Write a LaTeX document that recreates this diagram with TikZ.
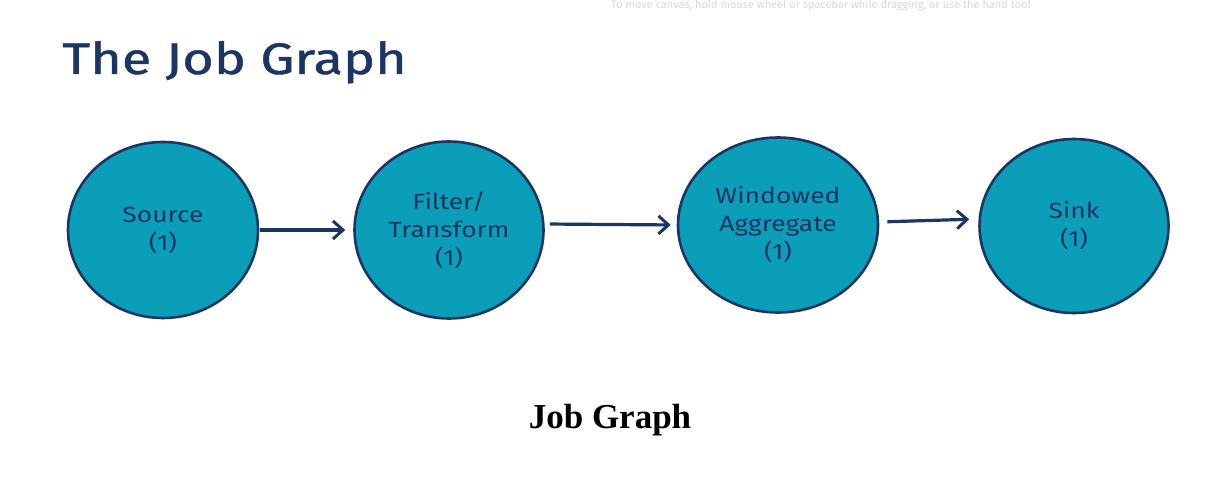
\documentclass[tikz,border=0pt]{standalone}
\usepackage{fontspec}
\setmainfont{Liberation Serif}
\newfontfamily\handfont{Fira Sans}
\newfontfamily\titlefont[FakeStretch=1.23,FakeBold=1]{Fira Sans}
\newfontfamily\labelfont[FakeStretch=1.2]{Fira Sans}
\usetikzlibrary{arrows.meta,shapes.geometric}
\definecolor{navy}{HTML}{1B3564}
\definecolor{tealfill}{HTML}{0A9EB9}
\definecolor{hintgray}{HTML}{D9D9D9}
\tikzset{
  stage/.style={ellipse, draw=navy, line width=2.6pt, fill=tealfill, inner sep=0pt,
    font=\labelfont\fontsize{22}{28}\selectfont, text=navy, align=center},
  flow/.style={draw=navy, line width=3.2pt, -{Straight Barb[length=10pt,width=18pt,line width=3pt]}},
}
\begin{document}
\begin{tikzpicture}[x=1pt,y=-1pt]
\useasboundingbox[fill=white] (0,0) rectangle (1222,486);
\node[text=hintgray, font=\handfont\fontsize{11}{12}\selectfont, anchor=center] (hint) at (821,5) {To move canvas, hold mouse wheel or spacebar while dragging, or use the hand tool};
\node[text=navy, font=\titlefont\fontsize{44}{48}\selectfont, anchor=base west, inner sep=0pt] (title) at (62,74) {The Job Graph};

\node[stage, minimum width=190pt, minimum height=176pt] (src) at (163,230) {Source\\(1)};
\node[stage, minimum width=189pt, minimum height=177pt] (flt) at (449,230) {Filter/\\Transform\\(1)};
\node[stage, minimum width=200pt, minimum height=175pt] (win) at (778,225) {Windowed\\Aggregate\\(1)};
\node[stage, minimum width=189pt, minimum height=174pt] (snk) at (1074,226) {Sink\\(1)};

\draw[flow, shorten <=1pt, shorten >=8pt] (src.east) -- (flt.west);
\draw[flow, shorten <=5pt, shorten >=6pt] ([yshift=6pt]flt.east) -- (win.west);
\draw[flow, shorten <=8pt, shorten >=9pt] ([yshift=3pt]win.east) -- ([yshift=7pt]snk.west);

\node[font=\bfseries\fontsize{35}{38}\selectfont, anchor=base] (cap) at (610,428) {Job Graph};
\end{tikzpicture}
\end{document}
